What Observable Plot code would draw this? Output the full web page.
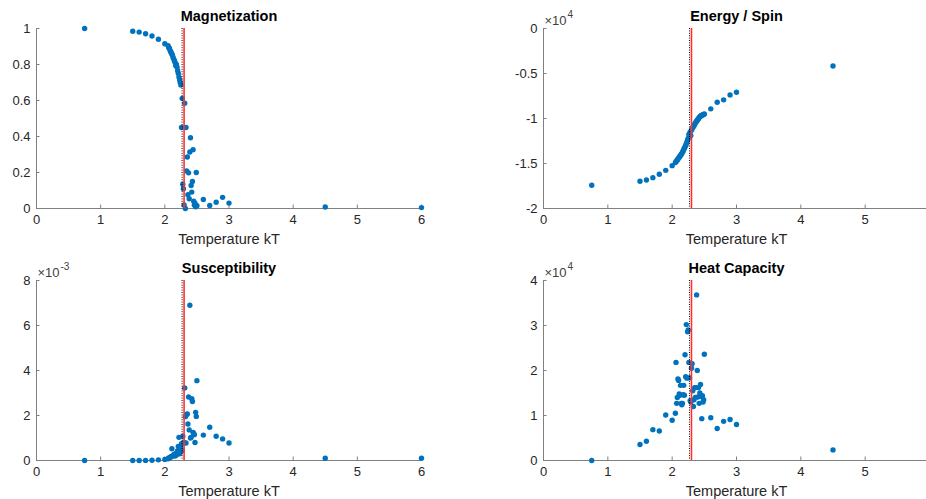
<!DOCTYPE html>
<html>
<head>
<meta charset="utf-8">
<script src="https://cdn.jsdelivr.net/npm/d3@7"></script>
<script src="https://cdn.jsdelivr.net/npm/@observablehq/plot@0.6"></script>
<style>
  html, body { margin: 0; padding: 0; background: #fff; overflow: hidden; }
  #fig { position: relative; width: 926px; height: 499px; overflow: hidden; background: #fff; }
  .panel { position: absolute; }
  .panel svg { max-width: none !important; }
</style>
</head>
<body>
<div id="fig"></div>
<script>
// ---- Data ----
const temperature = [0.75, 1.5, 1.6, 1.7, 1.8, 1.9, 2.0,
  2.05, 2.06, 2.07, 2.08, 2.09, 2.10, 2.11, 2.12, 2.13, 2.14,
  2.15, 2.16, 2.17, 2.18, 2.19, 2.20, 2.21, 2.22, 2.23, 2.24,
  2.25, 2.26, 2.27, 2.28, 2.29, 2.30, 2.31, 2.32, 2.33, 2.34,
  2.35, 2.36, 2.37, 2.38, 2.39, 2.40, 2.41, 2.42, 2.43, 2.44,
  2.45, 2.46, 2.47, 2.48, 2.49, 2.50,
  2.6, 2.7, 2.8, 2.9, 3.0, 4.5, 6.0];

const magnetization = [1.000, 0.985, 0.980, 0.971, 0.958, 0.940, 0.915,
  0.905, 0.895, 0.890, 0.880, 0.872, 0.865, 0.858, 0.850, 0.838, 0.830,
  0.820, 0.812, 0.795, 0.800, 0.785, 0.765, 0.750, 0.730, 0.715, 0.700,
  0.686, 0.450, 0.612, 0.135, 0.110, 0.020, 0.585, 0.000, 0.450, 0.209,
  0.286, 0.076, 0.198, 0.054, 0.314, 0.393, 0.128, 0.091, 0.150, 0.327,
  0.040, 0.020, 0.030, 0.010, 0.200, 0.015,
  0.050, 0.017, 0.035, 0.062, 0.030, 0.008, 0.005];

const energyPerSpin = [-17420, -16970, -16830, -16570, -16200, -15760, -15240,
  -14900, -14800, -14700, -14600, -14500, -14400, -14300, -14200, -14100, -14000,
  -13900, -13750, -13600, -13450, -13300, -13150, -13000, -12800, -12600, -12400,
  -12200, -11770, -11700, -11500, -11900, -11300, -11150, -11000, -10900, -10800,
  -10650, -10500, -10400, -10300, -10200, -10100, -10000, -9900, -9800, -9750,
  -9700, -9650, -9600, -9580, -9550, -9500,
  -8930, -8190, -7930, -7380, -7080, -4170, -2770];

const susceptibility = [0, 0, 0, 0.000005, 0.00001, 0.00003, 0.00005,
  0.00008, 0.00010, 0.00012, 0.00014, 0.00015, 0.00018, 0.00052, 0.00020, 0.00022, 0.00025,
  0.00028, 0.00020, 0.00030, 0.00025, 0.00035, 0.00044, 0.00063, 0.00103, 0.00030, 0.00038,
  0.00060, 0.00075, 0.00045, 0.00108, 0.00080, 0.00080, 0.00322, 0.00195, 0.00078, 0.00205,
  0.00207, 0.00162, 0.00282, 0.00136, 0.00690, 0.00100, 0.00103, 0.00275, 0.00262, 0.00125,
  0.00120, 0.00115, 0.00080, 0.00214, 0.00196, 0.00355,
  0.00113, 0.00148, 0.00108, 0.00096, 0.00078, 0.00010, 0.00010];

const heatCapacity = [0, 3540, 4280, 6860, 6570, 10100, 8930,
  10500, 21800, 12700, 14000, 18100, 17800, 14800, 14500, 16700, 12700,
  12400, 12700, 14600, 16700, 14500, 23500, 18600, 30200, 18300, 28600,
  29000, 21800, 18400, 13300, 13000, 20500, 21500, 15500, 12000, 13500,
  16200, 14000, 16200, 36800, 20000, 14100, 16200, 12700, 15000, 16900,
  14200, 9300, 14400, 13000, 13500, 23600,
  9500, 7100, 8700, 9100, 8000, 2360, 1500];

const criticalT = 2.269;     // dotted black line
const estimatedTc = 2.30;    // red line
const xTicks = [0, 1, 2, 3, 4, 5, 6];
const xLabel = "Temperature kT";

const panels = [
  {title: "Magnetization", values: magnetization, domain: [0, 1],
   ticks: [0, 0.2, 0.4, 0.6, 0.8, 1], fmt: d => String(+d.toFixed(1)), exp: null},
  {title: "Energy / Spin", values: energyPerSpin, domain: [-20000, 0],
   ticks: [-20000, -15000, -10000, -5000, 0], fmt: d => String(d / 1e4), exp: "4"},
  {title: "Susceptibility", values: susceptibility, domain: [0, 0.008],
   ticks: [0, 0.002, 0.004, 0.006, 0.008], fmt: d => String(Math.round(d * 1e3)), exp: "-3"},
  {title: "Heat Capacity", values: heatCapacity, domain: [0, 40000],
   ticks: [0, 10000, 20000, 30000, 40000], fmt: d => String(d / 1e4), exp: "4"}
];

// ---- Layout ----
const layout = [
  {left: 0,   top: 0,   width: 440, marginLeft: 36, marginRight: 19},
  {left: 500, top: 0,   width: 450, marginLeft: 43, marginRight: 21},
  {left: 0,   top: 252, width: 440, marginLeft: 36, marginRight: 19},
  {left: 500, top: 252, width: 450, marginLeft: 43, marginRight: 21}
];
const H = 250, MT = 28, MB = 42;
const axisColor = "#808080";
const font = "'Liberation Sans', Arial, Helvetica, sans-serif";

const fig = document.getElementById("fig");

panels.forEach((p, i) => {
  const L = layout[i];
  const data = temperature.map((t, k) => ({T: t, v: p.values[k]}));
  const frameW = L.width - L.marginLeft - L.marginRight;
  const frameH = H - MT - MB;
  const [y0, y1] = p.domain;
  const tickLenY = 3.5 / frameH * (y1 - y0);
  const tickLenX = 3.5 / frameW * 6;

  const marks = [
    // axis lines
    Plot.ruleY([y0], {stroke: axisColor, strokeWidth: 1}),
    Plot.ruleX([0], {stroke: axisColor, strokeWidth: 1}),
    // inward tick marks
    Plot.ruleX(xTicks, {x: d => d, y1: y0, y2: y0 + tickLenY, stroke: axisColor}),
    Plot.ruleY(p.ticks, {y: d => d, x1: 0, x2: tickLenX, stroke: axisColor}),
    // tick labels
    Plot.axisX(xTicks, {tickSize: 0, tickPadding: 6, label: null, fontSize: 13, tickFormat: d => String(d)}),
    Plot.axisY(p.ticks, {tickSize: 0, tickPadding: 6, label: null, fontSize: 13, tickFormat: p.fmt}),
    // data
    Plot.dot(data, {x: "T", y: "v", r: 2.7, fill: "#0072BD", stroke: "none"}),
    // critical temperature lines
    Plot.ruleX([criticalT], {stroke: "#000", strokeWidth: 1, strokeDasharray: "1,1.4"}),
    Plot.ruleX([estimatedTc], {stroke: "#ff3030", strokeWidth: 1.6}),
    // title and x label
    Plot.text([p.title], {frameAnchor: "top", lineAnchor: "middle", dy: -12.5, fontSize: 14.5, fontWeight: "bold", fill: "#000"}),
    Plot.text([xLabel], {frameAnchor: "bottom", lineAnchor: "middle", dy: 31, fontSize: 14.5, fill: "#262626"})
  ];
  if (p.exp) {
    marks.push(Plot.text(["\u00d710"], {frameAnchor: "top-left", lineAnchor: "middle", textAnchor: "start", dx: 1, dy: -8, fontSize: 13, fill: "#404040"}));
    marks.push(Plot.text([p.exp], {frameAnchor: "top-left", lineAnchor: "middle", textAnchor: "start", dx: 24, dy: -14, fontSize: 10, fill: "#404040"}));
  }

  const chart = Plot.plot({
    width: L.width,
    height: H,
    marginLeft: L.marginLeft,
    marginRight: L.marginRight,
    marginTop: MT,
    marginBottom: MB,
    style: {fontFamily: font, fontSize: "13px", color: "#262626", background: "transparent", overflow: "visible", maxWidth: "none"},
    x: {domain: [0, 6], axis: null},
    y: {domain: p.domain, axis: null},
    marks
  });
  const div = document.createElement("div");
  div.className = "panel";
  div.style.left = L.left + "px";
  div.style.top = L.top + "px";
  div.style.width = L.width + "px";
  div.style.height = H + "px";
  div.appendChild(chart);
  fig.appendChild(div);
});
</script>
</body>
</html>
